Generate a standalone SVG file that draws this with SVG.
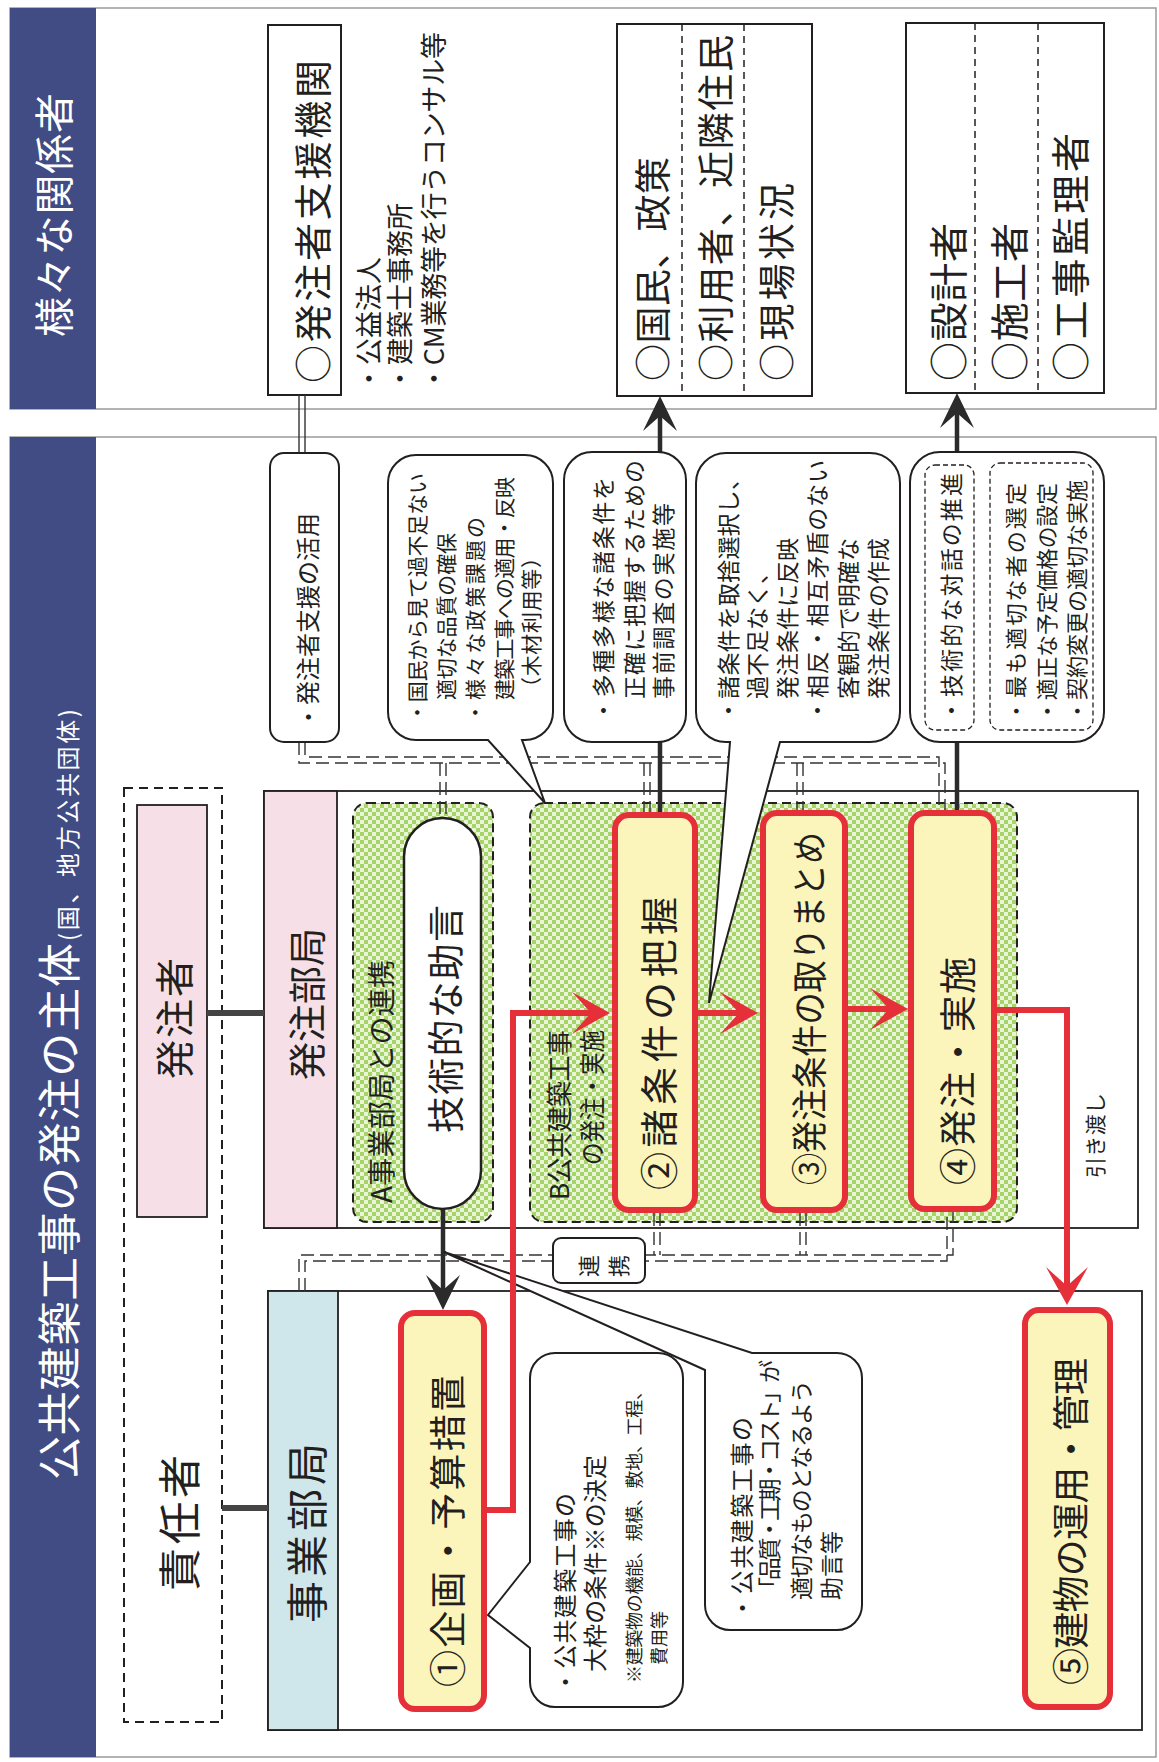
<svg xmlns="http://www.w3.org/2000/svg" width="1159" height="1762" viewBox="0 0 1159 1762">
<style>
.t{font-family:"Noto Sans CJK JP","Noto Sans",sans-serif;dominant-baseline:central;fill:#231f20}
.w{fill:#ffffff}
.frame{fill:#ffffff;stroke:#9a9a9a;stroke-width:1.5}
.band{fill:#414b84}
.box{fill:#ffffff;stroke:#231f20;stroke-width:2}
.sec{fill:#ffffff;stroke:#231f20;stroke-width:1.8}
.div{stroke:#231f20;stroke-width:1.5;stroke-dasharray:7 5;fill:none}
.grp{fill:url(#chk);stroke:#231f20;stroke-width:2;stroke-dasharray:9 5}
.node{fill:#fbf5bb;stroke:#e5303a;stroke-width:6}
.call{fill:#ffffff;stroke:#231f20;stroke-width:2}
.dd{fill:none;stroke:#333;stroke-width:1.4;stroke-dasharray:13 6}
.dsolid{fill:none;stroke:#333;stroke-width:1.4}
.thick{fill:none;stroke:#2b2b2b;stroke-width:4.5}
.red{fill:none;stroke:#e5303a;stroke-width:6;stroke-linejoin:miter}
.link{fill:none;stroke:#444;stroke-width:6}
.inner{fill:none;stroke:#231f20;stroke-width:1.3;stroke-dasharray:5 3}
</style>
<defs>
<pattern id="chk" width="8" height="8" patternUnits="userSpaceOnUse">
<rect width="8" height="8" fill="#eaf5d8"/>
<rect width="4" height="4" fill="#a6d46a"/>
<rect x="4" y="4" width="4" height="4" fill="#a6d46a"/>
</pattern>
<marker id="ahd" markerUnits="userSpaceOnUse" markerWidth="40" markerHeight="40" viewBox="-38 -20 40 40" refX="-20" refY="0" orient="auto">
<path d="M0,0 L-35,-17 L-20,0 L-35,17 Z" fill="#2b2b2b"/>
</marker>
<marker id="ahr" markerUnits="userSpaceOnUse" markerWidth="44" markerHeight="48" viewBox="-40 -24 44 48" refX="-19" refY="0" orient="auto">
<path d="M0,0 L-38,-21 L-19,0 L-38,21 Z" fill="#e5303a"/>
</marker>
</defs>
<rect width="1159" height="1762" fill="#ffffff"/>

<!-- top section -->
<g id="sec-top">
<rect class="frame" x="10" y="8" width="1146" height="401"/>
<rect class="band" x="10" y="8" width="86" height="401"/>
<text class="t w" x="52" y="337" transform="rotate(-90 52 337)" font-size="40" textLength="244">様々な関係者</text>
</g>
<!-- lower section -->
<g id="sec-main">
<rect class="frame" x="10" y="437" width="1146" height="1320"/>
<rect class="band" x="10" y="437" width="86" height="1320"/>
<text class="t w" x="57" y="1480" transform="rotate(-90 57 1480)" font-size="44" textLength="537">公共建築工事の発注の主体</text>
<text class="t w" x="66" y="941" transform="rotate(-90 66 941)" font-size="24" textLength="232">(国、地方公共団体)</text>
</g>

<g id="n-shien">
<rect class="box" x="268" y="25" width="73" height="370"/>
<text class="t" x="310" y="383" transform="rotate(-90 310 383)" font-size="38" textLength="323">○発注者支援機関</text>
<text class="t" x="367" y="392" transform="rotate(-90 367 392)" font-size="27">・公益法人</text>
<text class="t" x="398" y="392" transform="rotate(-90 398 392)" font-size="27">・建築士事務所</text>
<text class="t" x="432" y="392" transform="rotate(-90 432 392)" font-size="27" textLength="360">・CM業務等を行うコンサル等</text>
</g>
<g id="n-kokumin">
<rect class="box" x="617" y="24" width="195" height="372"/>
<line class="div" x1="682" y1="24" x2="682" y2="396"/>
<line class="div" x1="744" y1="24" x2="744" y2="396"/>
<text class="t" x="651" y="381" transform="rotate(-90 651 381)" font-size="37" textLength="224">○国民、政策</text>
<text class="t" x="714" y="381" transform="rotate(-90 714 381)" font-size="37" textLength="346">○利用者、近隣住民</text>
<text class="t" x="775" y="381" transform="rotate(-90 775 381)" font-size="37" textLength="198">○現場状況</text>
</g>
<g id="n-sekkei">
<rect class="box" x="906" y="23" width="198" height="370"/>
<line class="div" x1="975" y1="23" x2="975" y2="393"/>
<line class="div" x1="1038" y1="23" x2="1038" y2="393"/>
<text class="t" x="946" y="381" transform="rotate(-90 946 381)" font-size="39" textLength="158">○設計者</text>
<text class="t" x="1007" y="381" transform="rotate(-90 1007 381)" font-size="39" textLength="158">○施工者</text>
<text class="t" x="1068" y="381" transform="rotate(-90 1068 381)" font-size="39" textLength="248">○工事監理者</text>
</g>

<g id="n-sekininsha">
<rect x="124" y="788" width="98" height="934" fill="none" stroke="#231f20" stroke-width="2" stroke-dasharray="9 6"/>
<text class="t" x="177" y="1591" transform="rotate(-90 177 1591)" font-size="43" textLength="136">責任者</text>
</g>
<g id="n-hacchusha">
<rect x="137" y="805" width="70" height="412" fill="#f6dfe7" stroke="#231f20" stroke-width="1.8"/>
<text class="t" x="172" y="1079" transform="rotate(-90 172 1079)" font-size="39" textLength="121">発注者</text>
</g>

<g id="n-hacchubukyoku">
<rect class="sec" x="264" y="791" width="874" height="437"/>
<rect x="264" y="791" width="73" height="437" fill="#f6dfe7" stroke="#231f20" stroke-width="1.8"/>
<text class="t" x="304" y="1080" transform="rotate(-90 304 1080)" font-size="38" textLength="152">発注部局</text>
</g>
<g id="n-jigyobukyoku">
<rect class="sec" x="268" y="1291" width="874" height="439"/>
<rect x="268" y="1291" width="70" height="439" fill="#cfe7eb" stroke="#231f20" stroke-width="1.8"/>
<text class="t" x="304" y="1623" transform="rotate(-90 304 1623)" font-size="42" textLength="180">事業部局</text>
</g>

<g id="g-a">
<rect class="grp" x="353" y="803" width="140" height="419" rx="14"/>
<text class="t" x="380" y="1203" transform="rotate(-90 380 1203)" font-size="28" textLength="243">A事業部局との連携</text>
</g>
<g id="g-b">
<rect class="grp" x="530" y="803" width="487" height="419" rx="14"/>
<text class="t" x="557" y="1200" transform="rotate(-90 557 1200)" font-size="26" textLength="170">B公共建築工事</text>
<text class="t" x="590" y="1165" transform="rotate(-90 590 1165)" font-size="26" textLength="135" lengthAdjust="spacingAndGlyphs">の発注・実施</text>
</g>

<!-- connectors -->
<g id="connectors">
<line class="link" x1="207" y1="1013" x2="264" y2="1013"/>
<line class="link" x1="222" y1="1508" x2="268" y2="1508"/>
<path class="dsolid" d="M299,395 V453 M305,395 V453"/>
<path class="dd" d="M299,742 V763 H945 V810 M305,742 V757 H939 V810"/>
<path class="dd" d="M440,763 V817 M446,763 V817"/>
<path class="dd" d="M644,763 V812 M650,763 V812"/>
<path class="dd" d="M797,763 V810 M803,763 V810"/>
<path class="dd" d="M299,1291 V1255 H953 V1212 M305,1291 V1261 H947 V1212"/>
<path class="dd" d="M654,1213 V1255 M660,1213 V1255"/>
<path class="dd" d="M800,1213 V1255 M806,1213 V1255"/>
<path class="thick" d="M660,812 V416" marker-end="url(#ahd)"/>
<path class="thick" d="M957,810 V413" marker-end="url(#ahd)"/>
<path class="thick" d="M443,1210 V1290" marker-end="url(#ahd)"/>
</g>

<!-- callouts -->
<g id="c-shienkatsuyo">
<rect class="call" x="270" y="453" width="69" height="289" rx="14"/>
<text class="t" x="306" y="729" transform="rotate(-90 306 729)" font-size="24">・発注者支援の活用</text>
</g>
<g id="c-kokumin">
<path class="call" d="M416,455 H525 A28,28 0 0 1 553,483 V712 A28,28 0 0 1 525,740 H522 L545,803 L488,740 H416 A28,28 0 0 1 388,712 V483 A28,28 0 0 1 416,455 Z"/>
<text class="t" x="416" y="723" transform="rotate(-90 416 723)" font-size="21" textLength="250">・国民から見て過不足ない</text>
<text class="t" x="445" y="700" transform="rotate(-90 445 700)" font-size="21" textLength="167">適切な品質の確保</text>
<text class="t" x="474" y="723" transform="rotate(-90 474 723)" font-size="21" textLength="206">・様々な政策課題の</text>
<text class="t" x="503" y="700" transform="rotate(-90 503 700)" font-size="21" textLength="223">建築工事への適用・反映</text>
<text class="t" x="530" y="698" transform="rotate(-90 530 698)" font-size="21" textLength="151">（木材利用等）</text>
</g>
<g id="c-tashu">
<rect class="call" x="564" y="452" width="122" height="290" rx="28"/>
<text class="t" x="602" y="722" transform="rotate(-90 602 722)" font-size="23" textLength="245">・多種多様な諸条件を</text>
<text class="t" x="633" y="699" transform="rotate(-90 633 699)" font-size="23" textLength="239">正確に把握するための</text>
<text class="t" x="662" y="699" transform="rotate(-90 662 699)" font-size="23" textLength="196">事前調査の実施等</text>
</g>
<g id="c-shojoken">
<path class="call" d="M726,453 H870 A30,30 0 0 1 900,483 V712 A30,30 0 0 1 870,742 H780 L709,1003 L730,742 H726 A30,30 0 0 1 696,712 V483 A30,30 0 0 1 726,453 Z"/>
<text class="t" x="727" y="722" transform="rotate(-90 727 722)" font-size="23" textLength="255">・諸条件を取捨選択し、</text>
<text class="t" x="756" y="699" transform="rotate(-90 756 699)" font-size="23">過不足なく、</text>
<text class="t" x="786" y="699" transform="rotate(-90 786 699)" font-size="23">発注条件に反映</text>
<text class="t" x="816" y="722" transform="rotate(-90 816 722)" font-size="23" textLength="262">・相反・相互矛盾のない</text>
<text class="t" x="847" y="699" transform="rotate(-90 847 699)" font-size="23">客観的で明確な</text>
<text class="t" x="877" y="699" transform="rotate(-90 877 699)" font-size="23">発注条件の作成</text>
</g>
<g id="c-taiwa">
<rect class="call" x="910" y="452" width="194" height="290" rx="30"/>
<rect class="inner" x="925" y="465" width="49" height="265" rx="10"/>
<rect class="inner" x="990" y="463" width="103" height="267" rx="10"/>
<text class="t" x="950" y="722" transform="rotate(-90 950 722)" font-size="23" textLength="249">・技術的な対話の推進</text>
<text class="t" x="1014" y="722" transform="rotate(-90 1014 722)" font-size="22" textLength="239">・最も適切な者の選定</text>
<text class="t" x="1045" y="722" transform="rotate(-90 1045 722)" font-size="22" textLength="239" lengthAdjust="spacingAndGlyphs">・適正な予定価格の設定</text>
<text class="t" x="1075" y="722" transform="rotate(-90 1075 722)" font-size="22" textLength="242" lengthAdjust="spacingAndGlyphs">・契約変更の適切な実施</text>
</g>
<g id="c-waku">
<path class="call" d="M555,1353 H658 A25,25 0 0 1 683,1378 V1682 A25,25 0 0 1 658,1707 H555 A25,25 0 0 1 530,1682 V1648 L488,1615 L530,1562 V1378 A25,25 0 0 1 555,1353 Z"/>
<text class="t" x="563" y="1694" transform="rotate(-90 563 1694)" font-size="24" textLength="201">・公共建築工事の</text>
<text class="t" x="593" y="1672" transform="rotate(-90 593 1672)" font-size="24" textLength="217">大枠の条件※の決定</text>
<text class="t" x="633" y="1683" transform="rotate(-90 633 1683)" font-size="18" textLength="301">※建築物の機能、規模、敷地、工程、</text>
<text class="t" x="658" y="1665" transform="rotate(-90 658 1665)" font-size="18">費用等</text>
</g>
<g id="c-hinshitsu">
<path class="call" d="M752,1353 H837 A25,25 0 0 1 862,1378 V1605 A25,25 0 0 1 837,1630 H730 A25,25 0 0 1 705,1605 V1370 L444,1252 L752,1353 Z"/>
<text class="t" x="740" y="1620" transform="rotate(-90 740 1620)" font-size="24" textLength="203">・公共建築工事の</text>
<text class="t" x="768" y="1600" transform="rotate(-90 768 1600)" font-size="23" textLength="240">「品質・工期・コスト」が</text>
<text class="t" x="800" y="1600" transform="rotate(-90 800 1600)" font-size="23" textLength="220">適切なものとなるよう</text>
<text class="t" x="830" y="1600" transform="rotate(-90 830 1600)" font-size="23">助言等</text>
</g>
<g id="c-renkei">
<rect class="call" x="553" y="1238" width="92" height="45" rx="8"/>
<text class="t" x="587" y="1277" transform="rotate(-90 587 1277)" font-size="22">連</text>
<text class="t" x="617" y="1277" transform="rotate(-90 617 1277)" font-size="22">携</text>
</g>

<!-- nodes -->
<g id="n-josgen">
<rect x="404" y="818" width="77" height="391" rx="38.5" fill="#ffffff" stroke="#231f20" stroke-width="2.5"/>
<text class="t" x="444" y="1133" transform="rotate(-90 444 1133)" font-size="37" textLength="228">技術的な助言</text>
</g>
<g id="n-1">
<rect class="node" x="401" y="1313" width="83" height="396" rx="14"/>
<text class="t" x="446" y="1687" transform="rotate(-90 446 1687)" font-size="37" textLength="312">①企画・予算措置</text>
</g>
<g id="n-2">
<rect class="node" x="615" y="815" width="80" height="395" rx="14"/>
<text class="t" x="656" y="1190" transform="rotate(-90 656 1190)" font-size="38" textLength="293">②諸条件の把握</text>
</g>
<g id="n-3">
<rect class="node" x="763" y="813" width="82" height="397" rx="14"/>
<text class="t" x="807" y="1185" transform="rotate(-90 807 1185)" font-size="36" textLength="353" lengthAdjust="spacingAndGlyphs">③発注条件の取りまとめ</text>
</g>
<g id="n-4">
<rect class="node" x="911" y="813" width="83" height="396" rx="14"/>
<text class="t" x="956" y="1185" transform="rotate(-90 956 1185)" font-size="37" textLength="228">④発注・実施</text>
</g>
<g id="n-5">
<rect class="node" x="1025" y="1310" width="85" height="397" rx="14"/>
<text class="t" x="1069" y="1685" transform="rotate(-90 1069 1685)" font-size="37" textLength="327">⑤建物の運用・管理</text>
</g>

<g id="flow">
<path class="red" d="M484,1510 H513 V1013 H591" marker-end="url(#ahr)"/>
<path class="red" d="M698,1013 H739" marker-end="url(#ahr)"/>
<path class="red" d="M848,1009 H889" marker-end="url(#ahr)"/>
<path class="red" d="M997,1010 H1067 V1286" marker-end="url(#ahr)"/>
<text class="t" x="1094" y="1178" transform="rotate(-90 1094 1178)" font-size="21" textLength="85">引き渡し</text>
</g>
</svg>
